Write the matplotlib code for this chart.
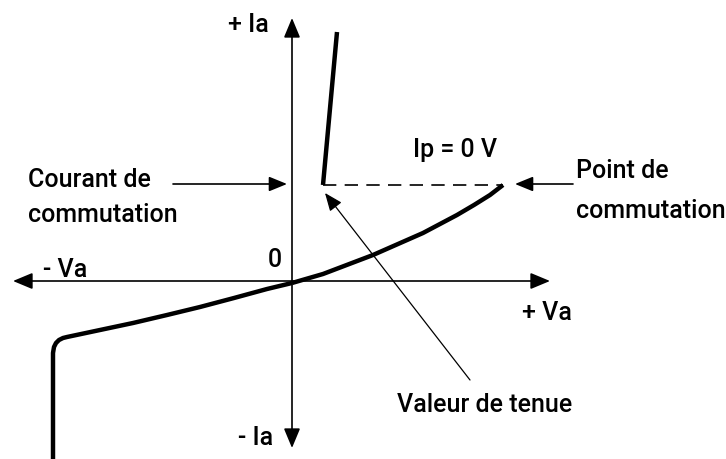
import numpy as np
import matplotlib.pyplot as plt

# characteristic curve (Va, Ia) in diagram units, origin at the axis crossing
neg_va = [-239, -239, -238, -236, -233, -229, -225, -192, -159, -125, -92, -58, -25, 0]
neg_ia = [-185, -72, -66, -62, -59, -57, -56, -49, -42, -34, -26, -17, -8, -2]
pos_va = [0, 31, 56, 81, 106, 131, 148, 165, 182, 198, 211]
pos_ia = [-2, 7, 16.5, 26, 37, 48, 57, 66, 76, 86, 96]
on_va = [31, 45]
on_ia = [96, 249]
hold_ia = 96          # switching current level (dashed line)
switch_va = 211       # switching point

plt.rcParams['font.family'] = ['Roboto', 'DejaVu Sans']
fs = 18

fig = plt.figure(figsize=(7.26, 4.59), dpi=100)
ax = fig.add_axes([0, 0, 1, 1])
ax.set_xlim(-292, 434)
ax.set_ylim(-178, 281)
ax.axis('off')

def arrow(tip, tail, lw=1.2, style='-|>,head_length=1.1,head_width=0.45'):
    ax.annotate('', xy=tip, xytext=tail,
                arrowprops=dict(arrowstyle=style, lw=lw, color='black',
                                mutation_scale=10, shrinkA=0, shrinkB=0))

# axes
arrow((-279, 0), (258, 0), style='<|-|>,head_length=1.2,head_width=0.5')
arrow((0, 263), (0, -167), style='<|-|>,head_length=1.2,head_width=0.5')

# curve
ax.plot(neg_va, neg_ia, color='black', lw=3.2, solid_capstyle='butt',
        solid_joinstyle='round')
ax.plot(pos_va, pos_ia, color='black', lw=3.2, solid_capstyle='butt',
        solid_joinstyle='round')
ax.plot(on_va, on_ia, color='black', lw=3.2, solid_capstyle='butt')
ax.plot([on_va[0], switch_va], [hold_ia, hold_ia], color='black', lw=1.2,
        dashes=(8, 5))

# annotation arrows
arrow((-5, hold_ia + 1), (-119, hold_ia + 1))
arrow((223, hold_ia + 1), (281, hold_ia + 1))
arrow((33, 88), (178, -99), lw=0.9)

# labels
kw = dict(fontsize=fs, va='baseline', fontweight='medium')
ax.text(-64, 249, '+ Ia', **kw)
ax.text(-54, -164, '- Ia', **kw)
ax.text(-249, 4, '- Va', **kw)
ax.text(-24, 14, '0', **kw)
ax.text(230, -39, '+ Va', **kw)
ax.text(121, 124, 'Ip = 0 V', **kw)
ax.text(-264, 94, 'Courant de', **kw)
ax.text(-264, 59, 'commutation', **kw)
ax.text(284, 103, 'Point de', **kw)
ax.text(284, 63, 'commutation', **kw)
ax.text(105, -131, 'Valeur de tenue', **kw)

plt.savefig('out.png', dpi=100)
